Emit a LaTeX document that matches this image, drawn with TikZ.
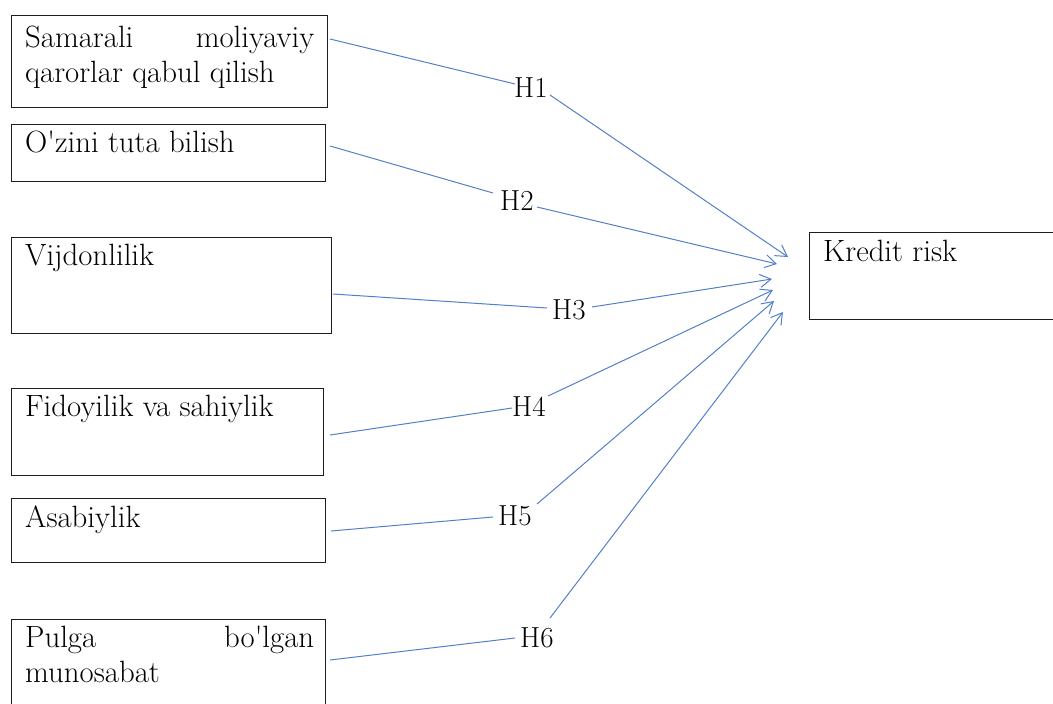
\documentclass[tikz,border=0pt]{standalone}
\usepackage{fontspec}
\usetikzlibrary{arrows.meta}
\definecolor{lineblue}{RGB}{82,128,200}
\definecolor{boxline}{RGB}{30,30,30}
\tikzset{
  box/.style={draw=boxline, line width=1.1pt, rectangle, inner sep=0pt, anchor=north west},
  boxtext/.style={anchor=base west, inner sep=0pt, font=\rmfamily\fontsize{30.8}{35}\selectfont},
  hlabel/.style={anchor=base west, inner sep=0pt, font=\rmfamily\fontsize{29}{33}\selectfont},
  link/.style={draw=lineblue, line width=1pt},
  arrowlink/.style={link, -{Straight Barb[length=11pt,width=13pt]}}
}
\begin{document}
\begin{tikzpicture}[x=1pt,y=-1pt]
\useasboundingbox (0,0) rectangle (1053,704);
% boxes
\node[box, minimum width=316pt, minimum height=92pt] (b1) at (11,15) {};
\node[box, minimum width=314pt, minimum height=57pt] (b2) at (11,124) {};
\node[box, minimum width=320pt, minimum height=96pt] (b3) at (11,237) {};
\node[box, minimum width=312pt, minimum height=87pt] (b4) at (11,388) {};
\node[box, minimum width=314pt, minimum height=64pt] (b5) at (11,498) {};
\node[box, minimum width=314pt, minimum height=95pt] (b6) at (11,619) {};
\node[box, minimum width=255pt, minimum height=87pt] (kr) at (809,232) {};
% texts
\node[boxtext] (t1) at (25,47) {\parbox[t]{289pt}{Samarali moliyaviy\linebreak qarorlar qabul qilish}};
\node[boxtext] (t2) at (25,152) {O\textquotesingle zini tuta bilish};
\node[boxtext] (t3) at (25,265) {Vijdonlilik};
\node[boxtext] (t4) at (25,416) {Fidoyilik va sahiylik};
\node[boxtext] (t5) at (25,527) {Asabiylik};
\node[boxtext] (t6) at (25,647) {\parbox[t]{289pt}{Pulga bo\textquotesingle lgan\linebreak munosabat}};
\node[boxtext] (tk) at (823,261) {Kredit risk};
% labels
\node[hlabel] (h1) at (514,97) {H1};
\node[hlabel] (h2) at (500,210) {H2};
\node[hlabel] (h3) at (552,319) {H3};
\node[hlabel] (h4) at (512,416) {H4};
\node[hlabel] (h5) at (498,525) {H5};
\node[hlabel] (h6) at (520,647) {H6};
% connector points
\coordinate (s1) at (330,39);  \coordinate (i1) at (515,84);  \coordinate (o1) at (550,95);  \coordinate (e1) at (788,257);
\coordinate (s2) at (330,146); \coordinate (i2) at (493,193); \coordinate (o2) at (537,207); \coordinate (e2) at (777,264);
\coordinate (s3) at (333,294); \coordinate (i3) at (547,308); \coordinate (o3) at (592,307); \coordinate (e3) at (772,279);
\coordinate (s4) at (330,435); \coordinate (i4) at (512,408); \coordinate (o4) at (548,396); \coordinate (e4) at (773,290);
\coordinate (s5) at (331,531); \coordinate (i5) at (493,517); \coordinate (o5) at (537,504); \coordinate (e5) at (774,301);
\coordinate (s6) at (330,660); \coordinate (i6) at (515,638); \coordinate (o6) at (550,618); \coordinate (e6) at (783,312);
\foreach \k in {1,...,6}{
  \draw[link] (s\k) -- (i\k);
  \draw[arrowlink] (o\k) -- (e\k);
}
\end{tikzpicture}
\end{document}
